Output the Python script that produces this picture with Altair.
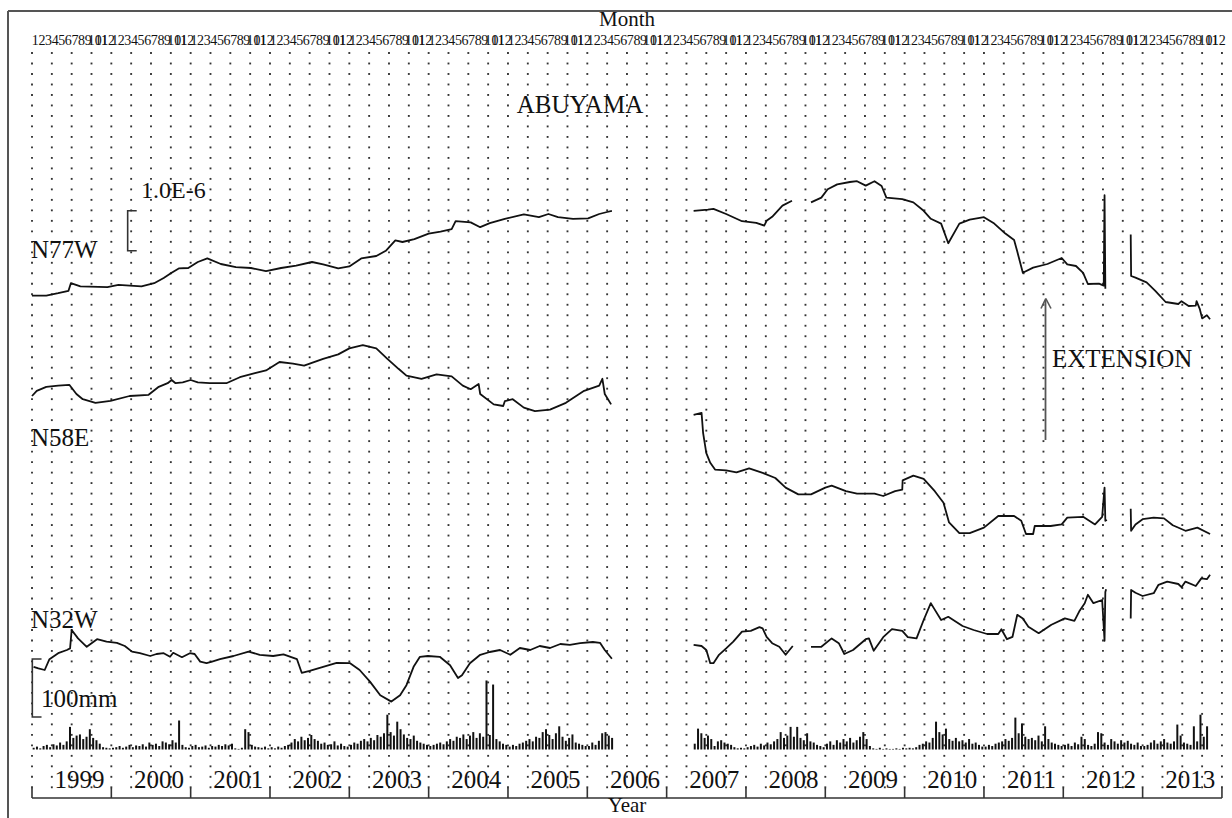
import altair as alt
import pandas as pd

# ---------------------------------------------------------------------------
# ABUYAMA extensometer records, strain in units of 1.0E-6 (relative values).
# None marks a gap in the record (the line is broken there).
# ---------------------------------------------------------------------------
N77W_T = [1999.00, 1999.18, 1999.33, 1999.46, 1999.49, 1999.61, 1999.95, 2000.09, 2000.38, 2000.54,
          2000.66, 2000.76, 2000.85, 2000.97, 2001.09, 2001.21, 2001.38, 2001.57, 2001.76, 2001.95,
          2002.14, 2002.33, 2002.53, 2002.67, 2002.86, 2003.00, 2003.15, 2003.34, 2003.46, 2003.58,
          2003.67, 2003.82, 2004.00, 2004.15, 2004.29, 2004.34, 2004.53, 2004.65, 2004.77, 2004.96,
          2005.20, 2005.39, 2005.51, 2005.63, 2005.82, 2006.01, 2006.15, 2006.25, 2006.31,
          None,
          2007.34, 2007.52, 2007.59, 2007.75, 2007.95, 2008.13, 2008.23, 2008.26, 2008.33, 2008.46, 2008.58,
          None,
          2008.82, 2008.95, 2009.03, 2009.15, 2009.31, 2009.40, 2009.51, 2009.62, 2009.71, 2009.77,
          2009.97, 2010.11, 2010.24, 2010.33, 2010.46, 2010.55, 2010.69, 2010.82, 2011.00, 2011.13,
          2011.27, 2011.38, 2011.42, 2011.49, 2011.62, 2011.80, 2011.98, 2012.05, 2012.16, 2012.25,
          2012.31, 2012.45, 2012.51, 2012.52, 2012.53,
          None,
          2012.85, 2012.855, 2012.91, 2013.05, 2013.16, 2013.29, 2013.45, 2013.49, 2013.58, 2013.67,
          2013.68, 2013.72, 2013.75, 2013.81, 2013.85]
N77W_S = [0.11, 0.11, 0.17, 0.23, 0.42, 0.34, 0.32, 0.38, 0.34, 0.42,
          0.55, 0.68, 0.79, 0.80, 0.95, 1.04, 0.90, 0.82, 0.80, 0.72,
          0.80, 0.86, 0.95, 0.89, 0.79, 0.84, 1.04, 1.10, 1.23, 1.49,
          1.45, 1.52, 1.66, 1.71, 1.77, 1.97, 1.94, 1.82, 1.92, 2.03,
          2.14, 2.07, 2.15, 2.07, 2.03, 2.04, 2.15, 2.20, 2.23,
          None,
          2.23, 2.26, 2.28, 2.15, 1.97, 1.93, 1.86, 1.98, 2.08, 2.36, 2.48,
          None,
          2.44, 2.56, 2.77, 2.89, 2.95, 2.97, 2.86, 2.97, 2.85, 2.56,
          2.52, 2.44, 2.23, 2.03, 1.91, 1.42, 1.91, 2.01, 2.07, 1.91,
          1.66, 1.50, 1.21, 0.68, 0.81, 0.90, 1.05, 0.89, 0.85, 0.68,
          0.40, 0.41, 0.36, 2.62, 0.28,
          None,
          1.64, 0.60, 0.56, 0.44, 0.23, -0.05, -0.10, -0.03, -0.15, -0.14,
          -0.03, -0.22, -0.46, -0.38, -0.48]

N58E_T = [1999.00, 1999.06, 1999.18, 1999.33, 1999.47, 1999.56, 1999.64, 1999.80, 1999.99, 2000.23,
          2000.47, 2000.59, 2000.71, 2000.76, 2000.81, 2000.90, 2001.00, 2001.09, 2001.24, 2001.45,
          2001.62, 2001.81, 2001.95, 2002.12, 2002.29, 2002.43, 2002.67, 2002.86, 2003.00, 2003.17,
          2003.34, 2003.48, 2003.62, 2003.72, 2003.91, 2004.10, 2004.29, 2004.43, 2004.53, 2004.63,
          2004.65, 2004.82, 2004.94, 2004.96, 2005.06, 2005.20, 2005.34, 2005.53, 2005.73, 2005.96,
          2006.15, 2006.19, 2006.22, 2006.30,
          None,
          2007.34, 2007.44, 2007.46, 2007.50, 2007.55, 2007.61, 2007.75, 2007.88, 2008.04, 2008.21,
          2008.37, 2008.50, 2008.66, 2008.82, 2009.00, 2009.08, 2009.26, 2009.40, 2009.62, 2009.73,
          2009.88, 2009.97, 2009.975, 2010.11, 2010.24, 2010.38, 2010.49, 2010.56, 2010.69, 2010.82,
          2011.00, 2011.18, 2011.38, 2011.47, 2011.53, 2011.62, 2011.64, 2011.84, 2011.98, 2012.05,
          2012.25, 2012.40, 2012.49, 2012.52, 2012.53, 2012.55,
          None,
          2012.85, 2012.855, 2012.91, 2013.00, 2013.14, 2013.27, 2013.38, 2013.54, 2013.69, 2013.85]
N58E_S = [0.10, 0.23, 0.33, 0.36, 0.38, 0.15, 0.02, -0.07, -0.02, 0.10,
          0.13, 0.32, 0.42, 0.50, 0.42, 0.44, 0.50, 0.44, 0.42, 0.42,
          0.57, 0.67, 0.74, 0.95, 0.91, 0.86, 1.03, 1.14, 1.29, 1.37,
          1.29, 1.03, 0.78, 0.61, 0.53, 0.64, 0.59, 0.36, 0.27, 0.40,
          0.15, -0.11, -0.15, -0.03, 0.02, -0.19, -0.28, -0.24, -0.07, 0.23,
          0.36, 0.53, 0.15, -0.11,
          None,
          -0.37, -0.32, -0.83, -1.33, -1.57, -1.74, -1.76, -1.81, -1.71, -1.82,
          -1.95, -2.19, -2.36, -2.36, -2.19, -2.14, -2.28, -2.34, -2.34, -2.40,
          -2.28, -2.24, -2.01, -1.89, -1.97, -2.28, -2.57, -3.06, -3.33, -3.33,
          -3.19, -2.90, -2.90, -3.02, -3.35, -3.35, -3.15, -3.15, -3.11, -2.94,
          -2.92, -3.11, -2.92, -2.19, -3.02, -3.00,
          None,
          -2.72, -3.27, -3.11, -2.98, -2.94, -2.96, -3.13, -3.27, -3.19, -3.35]

N32W_T = [1999.02, 1999.08, 1999.16, 1999.22, 1999.33, 1999.44, 1999.48, 1999.50, 1999.58, 1999.69,
          1999.82, 1999.94, 2000.07, 2000.17, 2000.26, 2000.36, 2000.49, 2000.57, 2000.66, 2000.74,
          2000.78, 2000.89, 2000.99, 2001.05, 2001.12, 2001.20, 2001.27, 2001.37, 2001.54, 2001.73,
          2001.87, 2002.04, 2002.17, 2002.34, 2002.40, 2002.50, 2002.67, 2002.84, 2003.01, 2003.13,
          2003.26, 2003.39, 2003.53, 2003.64, 2003.72, 2003.81, 2003.89, 2003.99, 2004.14, 2004.27,
          2004.37, 2004.42, 2004.52, 2004.65, 2004.77, 2004.90, 2005.03, 2005.15, 2005.28, 2005.40,
          2005.53, 2005.66, 2005.78, 2005.91, 2006.07, 2006.16, 2006.22, 2006.31,
          None,
          2007.34, 2007.44, 2007.50, 2007.55, 2007.59, 2007.66, 2007.75, 2007.84, 2007.95, 2008.06,
          2008.17, 2008.21, 2008.26, 2008.33, 2008.42, 2008.50, 2008.59,
          None,
          2008.82, 2008.95, 2009.08, 2009.17, 2009.24, 2009.35, 2009.51, 2009.55, 2009.61, 2009.73,
          2009.84, 2009.97, 2010.04, 2010.15, 2010.24, 2010.33, 2010.37, 2010.46, 2010.55, 2010.73,
          2010.87, 2011.04, 2011.18, 2011.22, 2011.29, 2011.36, 2011.42, 2011.49, 2011.56, 2011.69,
          2011.85, 2012.02, 2012.14, 2012.20, 2012.27, 2012.31, 2012.38, 2012.49, 2012.52, 2012.53,
          2012.54,
          None,
          2012.85, 2012.855, 2012.91, 2013.00, 2013.14, 2013.20, 2013.31, 2013.45, 2013.49, 2013.54,
          2013.67, 2013.74, 2013.81, 2013.85]
N32W_S = [-0.17, -0.21, -0.25, 0.02, 0.17, 0.25, 0.29, 0.75, 0.54, 0.33,
          0.52, 0.46, 0.43, 0.35, 0.21, 0.17, 0.10, 0.15, 0.17, 0.08,
          0.18, 0.07, 0.17, 0.15, -0.04, -0.08, -0.04, 0.02, 0.10, 0.21,
          0.13, 0.10, 0.14, 0.02, -0.32, -0.27, -0.17, -0.07, -0.08, -0.25,
          -0.54, -0.88, -1.04, -0.88, -0.63, -0.17, 0.08, 0.10, 0.08, -0.13,
          -0.45, -0.38, -0.08, 0.13, 0.20, 0.25, 0.13, 0.30, 0.25, 0.35,
          0.30, 0.40, 0.38, 0.42, 0.45, 0.43, 0.25, 0.03,
          None,
          0.38, 0.35, 0.25, -0.08, -0.08, 0.13, 0.29, 0.46, 0.71, 0.73,
          0.82, 0.79, 0.58, 0.42, 0.33, 0.13, 0.35,
          None,
          0.33, 0.33, 0.54, 0.42, 0.15, 0.25, 0.52, 0.54, 0.23, 0.57,
          0.77, 0.73, 0.57, 0.54, 1.00, 1.42, 1.29, 1.00, 1.08, 0.85,
          0.75, 0.65, 0.65, 0.77, 0.52, 0.58, 1.13, 1.04, 0.83, 0.67,
          0.88, 1.04, 0.98, 1.21, 1.42, 1.63, 1.42, 1.50, 0.48, 1.70,
          1.77,
          None,
          1.04, 1.75, 1.68, 1.60, 1.67, 1.88, 1.96, 1.90, 1.82, 1.96,
          1.85, 2.04, 2.02, 2.13]

# Precipitation (mm), half-month totals, Jan-1 ... Dec-2; None = not recorded
RAIN = {
    1999: [3, 5, 2, 6, 8, 4, 9, 7, 12, 8, 14, 39, 20, 24, 26, 18, 22, 35, 20, 16, 10, 4, 3, 2],
    2000: [3, 4, 6, 3, 5, 8, 4, 7, 6, 9, 5, 12, 8, 10, 6, 14, 12, 9, 16, 12, 50, 8, 4, 3],
    2001: [6, 8, 4, 5, 7, 3, 6, 5, 8, 6, 9, 7, 10, 2, 1, 3, 35, 30, 8, 5, 4, 3, 5, 2],
    2002: [4, 2, 5, 3, 6, 8, 12, 18, 14, 22, 16, 20, 25, 18, 15, 10, 12, 8, 9, 14, 7, 10, 6, 5],
    2003: [8, 12, 10, 15, 18, 14, 20, 16, 25, 22, 28, 60, 30, 24, 48, 35, 26, 20, 18, 24, 15, 12, 10, 8],
    2004: [6, 8, 10, 12, 9, 14, 18, 15, 22, 20, 26, 18, 24, 30, 20, 28, 22, 119, 25, 112, 18, 14, 10, 8],
    2005: [5, 8, 6, 10, 12, 15, 18, 14, 22, 20, 30, 35, 25, 18, 28, 40, 22, 15, 20, 26, 12, 10, 8, 6],
    2006: [6, 12, 8, 15, 28, 30, 24, 20] + [None] * 16,
    2007: [None] * 8 + [10, 36, 28, 20, 24, 18, 6, 14, 16, 12, 10, 8, 4, 2, 3, 2],
    2008: [4, 6, 8, 5, 10, 7, 12, 9, 14, 18, 30, 20, 24, 39, 22, 39, 20, 16, 28, 14, 12, 8, 6, 4],
    2009: [10, 14, 8, 16, 12, 18, 14, 20, 12, 16, 22, 30, 18, 6, 2, 1, 3, 1, 2, 1, 1, 2, 1, 3],
    2010: [2, 3, 2, 4, 8, 10, 14, 12, 20, 48, 30, 26, 36, 18, 15, 20, 14, 16, 12, 18, 10, 12, 8, 5],
    2011: [5, 8, 6, 10, 12, 14, 18, 15, 20, 55, 28, 45, 22, 18, 20, 16, 24, 14, 40, 18, 12, 10, 8, 6],
    2012: [8, 10, 6, 12, 9, 22, 18, 8, 6, 10, 30, 28, 12, 8, 18, 14, 10, 16, 12, 15, 10, 8, 12, 6],
    2013: [6, 8, 12, 16, 10, 14, 18, 12, 10, 14, 43, 24, 12, 10, 8, 40, 14, 60, 22, 40, None, None, None, None],
}

YEARS = list(range(1999, 2014))
MONTHS = list(range(1, 13))

# ---------------------------------------------------------------------------
# layout
# ---------------------------------------------------------------------------
W, H = 1232, 818
FONT = "Liberation Serif"
INK = "#111111"

# time axis: 1999.0 sits at x=32, one year spans 79.33 px
X0_PX, YEAR_PX = 32.0, 79.33
x_scale = alt.Scale(domain=[1999 - X0_PX / YEAR_PX, 1999 + (W - X0_PX) / YEAR_PX], nice=False, zero=False)
# strain axis: 1.0E-6 spans 40 px
strain_scale = alt.Scale(domain=[-H / 40.0, 0.0], nice=False, zero=False)
# precipitation axis: 100 mm spans 58 px, zero line at y=749.5
rain_scale = alt.Scale(domain=[(749.5 - H) / 0.58, 749.5 / 0.58], nice=False, zero=False)
# dotted lattice rows, 10.49 px apart starting at y=53
row_scale = alt.Scale(domain=[-53 / 10.49, (H - 53) / 10.49], reverse=True, nice=False, zero=False)

# vertical placement of each trace (strain-axis units)
OFFSETS = {"N77W": -7.5, "N58E": -10.0, "N32W": -16.5}


def trace_rows(name, times, values):
    rows, seg, i = [], 0, 0
    for t, s in zip(times, values):
        if t is None:
            seg += 1
            continue
        rows.append({"comp": name, "seg": f"{name}-{seg}", "t": t, "y": OFFSETS[name] + s, "i": i})
        i += 1
    return rows


traces = pd.DataFrame(
    trace_rows("N77W", N77W_T, N77W_S)
    + trace_rows("N58E", N58E_T, N58E_S)
    + trace_rows("N32W", N32W_T, N32W_S)
)

rain = pd.DataFrame(
    [{"t": yr + (k + 0.5) / 24.0, "mm": v, "zero": 0.0}
     for yr, vals in RAIN.items() for k, v in enumerate(vals) if v is not None]
)

grid = pd.DataFrame([{"t": 1999 + q / 4.0, "r": r} for q in range(61) for r in range(71)])
months = pd.DataFrame([{"t": y + (m - 0.5) / 12.0, "lab": str(m)} for y in YEARS for m in MONTHS])
years = pd.DataFrame([{"t": y + 0.6, "lab": str(y)} for y in YEARS])
year_ticks = pd.DataFrame({"t": [float(y) for y in range(1999, 2015)]})
axis_span = pd.DataFrame({"t0": [1999.0], "t1": [2014.0]})

X = lambda f="t": alt.X(f"{f}:Q", scale=x_scale, axis=None)
one = pd.DataFrame({"a": [0]})

# dotted quarterly lattice
dots = alt.Chart(grid).mark_square(size=3.5, color="#333333", opacity=1).encode(
    x=X(), y=alt.Y("r:Q", scale=row_scale, axis=None)
)

# strain traces
lines = alt.Chart(traces).mark_line(color=INK, strokeWidth=1.8, strokeJoin="round").encode(
    x=X(), y=alt.Y("y:Q", scale=strain_scale, axis=None), detail="seg:N", order="i:Q"
)

# precipitation bars
bars = alt.Chart(rain).mark_rule(color=INK, strokeWidth=2).encode(
    x=X(), y=alt.Y("mm:Q", scale=rain_scale, axis=None), y2="zero:Q"
)

# scale bars: 1.0E-6 strain and 100 mm
sb_top = -210.7 / 40.0
strain_bar = pd.DataFrame({"t": [2000.32, 2000.206, 2000.206, 2000.32],
                           "y": [sb_top, sb_top, sb_top - 1.0, sb_top - 1.0], "i": [0, 1, 2, 3]})
strain_bracket = alt.Chart(strain_bar).mark_line(color="#333333", strokeWidth=1.6).encode(
    x=X(), y=alt.Y("y:Q", scale=strain_scale, axis=None), order="i:Q"
)
rain_bar = pd.DataFrame({"t": [1999.12, 1999.004, 1999.004, 1999.12],
                         "mm": [156.0, 156.0, 56.0, 56.0], "i": [0, 1, 2, 3]})
rain_bracket = alt.Chart(rain_bar).mark_line(color="#333333", strokeWidth=1.6).encode(
    x=X(), y=alt.Y("mm:Q", scale=rain_scale, axis=None), order="i:Q"
)

# axes drawn by hand: month row on top, year row with ticks at the bottom
month_text = alt.Chart(months).mark_text(font=FONT, fontSize=14, color=INK, baseline="middle").encode(
    x=X(), y=alt.value(41), text="lab:N"
)
year_text = alt.Chart(years).mark_text(font=FONT, fontSize=25, color=INK, baseline="middle").encode(
    x=X(), y=alt.value(780), text="lab:N"
)
base_line = alt.Chart(axis_span).mark_rule(color="#333333", strokeWidth=1.6).encode(
    x=X("t0"), x2="t1:Q", y=alt.value(798)
)
ticks = alt.Chart(year_ticks).mark_rule(color="#333333", strokeWidth=1.6).encode(
    x=X(), y=alt.value(788), y2=alt.value(798)
)


def label(text, x, y, size=25, align="left"):
    return alt.Chart(one).mark_text(
        text=text, font=FONT, fontSize=size, color=INK, align=align, baseline="middle"
    ).encode(x=alt.value(x), y=alt.value(y))


def seg(x1, y1, x2, y2, color="#333333", width=2.0):
    return alt.Chart(one).mark_rule(color=color, strokeWidth=width).encode(
        x=alt.value(x1), y=alt.value(y1), x2=alt.value(x2), y2=alt.value(y2)
    )


texts = [
    label("Month", 627, 20, size=21, align="center"),
    label("Year", 627, 806, size=21, align="center"),
    label("ABUYAMA", 580, 105, size=25, align="center"),
    label("1.0E-6", 141, 191, size=24),
    label("N77W", 31, 250),
    label("N58E", 31, 438),
    label("N32W", 31, 620),
    label("100mm", 41, 699),
    label("EXTENSION", 1052, 359),
]

frame = [
    seg(8, 11, W, 11, color="#555555", width=2),
    seg(8, 11, 8, H, color="#555555", width=2),
]

arrow = [
    seg(1045.5, 300, 1045.5, 440, color="#555555", width=1.8),
    seg(1045.8, 298.5, 1041.0, 308.5, color="#555555", width=1.6),
    seg(1045.8, 298.5, 1051.0, 308.5, color="#555555", width=1.6),
]

chart = alt.layer(
    dots, *frame, base_line, ticks, month_text, year_text, bars, rain_bracket,
    strain_bracket, lines, *arrow, *texts
).resolve_scale(y="independent").properties(
    width=W, height=H, autosize=alt.AutoSizeParams(type="none"), padding=0,
    background="white"
).configure_view(stroke=None)

chart.save("out.html", embed_options={"renderer": "svg", "actions": False})
